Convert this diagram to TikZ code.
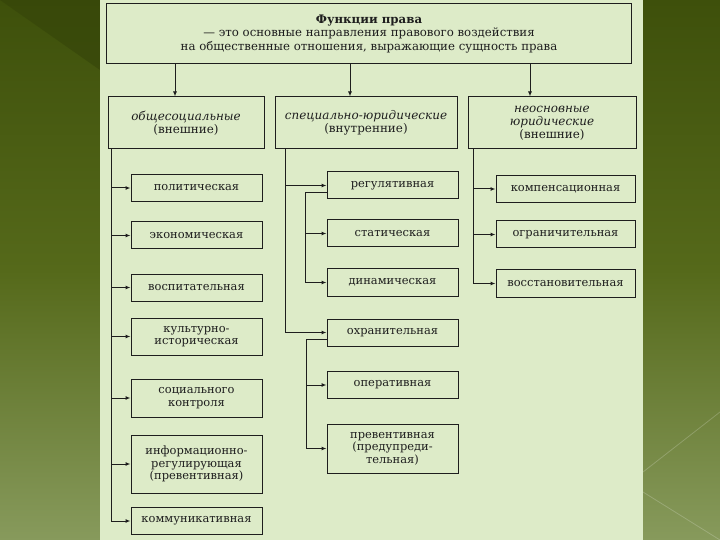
\documentclass[tikz,border=0pt]{standalone}
\usepackage{fontspec}
\setmainfont{DejaVu Serif}
\usepackage{xcolor}
\usetikzlibrary{arrows.meta,positioning}
\definecolor{panel}{HTML}{DDEBC8}
\definecolor{olivetop}{HTML}{3E500B}
\definecolor{olivemid}{HTML}{55691A}
\definecolor{olivebot}{HTML}{879A5C}
\definecolor{ink}{HTML}{1E1E1E}

\begin{document}
\begin{tikzpicture}[
  x=1bp, y=-1bp,
  box/.style={draw=ink, line width=1bp, align=center, inner sep=1bp,
    text=ink, font=\fontsize{11.5}{12.5}\selectfont},
  headbox/.style={box, font=\fontsize{11.8}{13.5}\selectfont},
  catbox/.style={box, minimum height=52bp, font=\fontsize{12}{13}\selectfont},
  item/.style={box, minimum height=27bp},
  lbox/.style={item, minimum width=131bp},
  mbox/.style={item, minimum width=131bp},
  rbox/.style={item, minimum width=139bp},
  arrow/.style={-{Latex[length=5bp,width=4bp]}, line width=1bp, draw=ink}
]

\useasboundingbox (0,0) rectangle (720,540);
\shade[top color=olivetop, bottom color=olivebot, middle color=olivemid]
  (0,0) rectangle (720,540);
\fill[olivetop!85!black, opacity=0.6] (0,0) -- (100,0) -- (100,70) -- cycle;
\draw[white, opacity=0.2, line width=0.8bp] (643,472) -- (720,412);
\draw[white, opacity=0.2, line width=0.8bp] (643,492) -- (720,540);
\fill[panel] (100,0) rectangle (643,540);

\node[headbox, minimum width=524bp, minimum height=60bp] (law) at (369,34)
  {\textbf{Функции права}\\— это основные направления правового воздействия\\на общественные отношения, выражающие сущность права};

\node[catbox, minimum width=156bp] (gen) at (186,123)
  {\textit{общесоциальные}\\(внешние)};
\node[catbox, minimum width=182bp] (spec) at (366,123)
  {\textit{специально-юридические}\\(внутренние)};
\node[catbox, minimum width=168bp] (ext) at (552,123)
  {\textit{неосновные}\\\textit{юридические}\\(внешние)};

\node[lbox] (pol) at (196.5,188) {политическая};
\node[lbox] (eco) at (196.5,235.5) {экономическая};
\node[lbox] (edu) at (196.5,287.5) {воспитательная};
\node[lbox, minimum height=37bp] (cult) at (196.5,336.5) {культурно-\\историческая};
\node[lbox, minimum height=38bp] (soc) at (196.5,398) {социального\\контроля};
\node[lbox, minimum height=58bp] (info) at (196.5,464) {информационно-\\регулирующая\\(превентивная)};
\node[lbox] (com) at (196.5,521) {коммуникативная};

\node[mbox] (reg) at (392.5,185.5) {регулятивная};
\node[mbox] (stat) at (392.5,233.5) {статическая};
\node[mbox] (dyn) at (392.5,282.5) {динамическая};
\node[mbox] (prot) at (392.5,332.5) {охранительная};
\node[mbox] (oper) at (392.5,385) {оперативная};
\node[mbox, minimum height=49bp] (prev) at (392.5,448.5) {превентивная\\(предупреди-\\тельная)};

\node[rbox] (comp) at (565.5,189) {компенсационная};
\node[rbox] (lim) at (565.5,234.5) {ограничительная};
\node[rbox] (rest) at (565.5,283.5) {восстановительная};

\coordinate (a1) at ([xshift=-11bp]gen.north);
\coordinate (a2) at ([xshift=-16bp]spec.north);
\coordinate (a3) at ([xshift=-22bp]ext.north);
\draw[arrow] (law.south -| a1) -- (a1);
\draw[arrow] (law.south -| a2) -- (a2);
\draw[arrow] (law.south -| a3) -- (a3);

\coordinate (t1) at ([xshift=4bp]gen.south west);
\draw[arrow] (t1) |- (com);
\foreach \n in {pol,eco,edu,cult,soc,info}
  \draw[arrow] (t1 |- \n) -- (\n);

\coordinate (t2) at ([xshift=11bp]spec.south west);
\draw[arrow] (t2) |- (prot);
\draw[arrow] (t2 |- reg) -- (reg);
\coordinate (s1) at ([xshift=-21bp,yshift=-7bp]reg.west);
\draw[arrow] ([yshift=-7bp]reg.west) -- (s1) |- (dyn);
\draw[arrow] (s1 |- stat) -- (stat);
\coordinate (s2) at ([xshift=-20bp,yshift=-7bp]prot.west);
\draw[arrow] ([yshift=-7bp]prot.west) -- (s2) |- (prev);
\draw[arrow] (s2 |- oper) -- (oper);

\coordinate (t3) at ([xshift=6bp]ext.south west);
\draw[arrow] (t3) |- (rest);
\foreach \n in {comp,lim}
  \draw[arrow] (t3 |- \n) -- (\n);

\end{tikzpicture}
\end{document}
